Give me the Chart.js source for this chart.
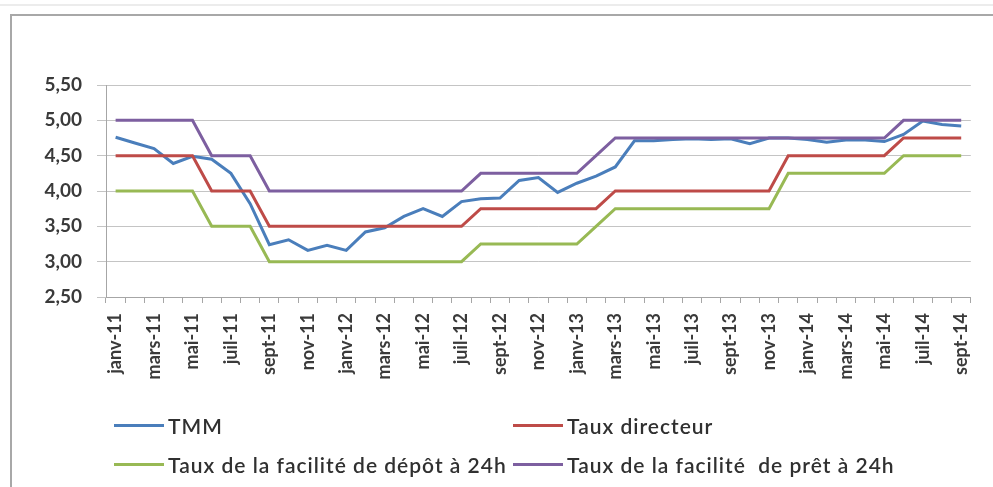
<!DOCTYPE html>
<html>
<head>
<meta charset="utf-8">
<script src="https://cdn.jsdelivr.net/npm/chart.js@4"></script>
<style>
  html, body { margin: 0; padding: 0; background: #fff; }
  #wrap { position: relative; width: 993px; height: 487px; overflow: hidden; font-family: Lato, "Open Sans", sans-serif; }
  #chart { position: absolute; left: 0; top: 0; }
  #faint { position: absolute; left: 0; top: 4px; width: 993px; border-top: 2px solid #ececec; }
  #frame { position: absolute; left: 10px; top: 14px; width: 1000px; height: 500px;
           border-top: 2px solid #a8a8a8; border-left: 2px solid #a8a8a8; }
  .leg { position: absolute; display: flex; align-items: center; white-space: pre;
         font-size: 21px; letter-spacing: 1px; color: #303030; font-weight: 600; }
  .leg i { display: inline-block; width: 50px; height: 3px; margin-right: 4px; }
</style>
</head>
<body>
<div id="wrap">
  <div id="faint"></div>
  <div id="frame"></div>
  <canvas id="chart" width="993" height="487"></canvas>
  <div id="legend"></div>
</div>
<script>
"use strict";

// janv-11 .. sept-14, monthly
const MONTHS = [
  "janv-11", "févr-11", "mars-11", "avr-11", "mai-11", "juin-11", "juil-11", "août-11", "sept-11", "oct-11", "nov-11", "déc-11",
  "janv-12", "févr-12", "mars-12", "avr-12", "mai-12", "juin-12", "juil-12", "août-12", "sept-12", "oct-12", "nov-12", "déc-12",
  "janv-13", "févr-13", "mars-13", "avr-13", "mai-13", "juin-13", "juil-13", "août-13", "sept-13", "oct-13", "nov-13", "déc-13",
  "janv-14", "févr-14", "mars-14", "avr-14", "mai-14", "juin-14", "juil-14", "août-14", "sept-14",
];

const TMM = [
  4.76, 4.68, 4.60, 4.39, 4.49, 4.45, 4.25, 3.82, 3.24, 3.31, 3.16, 3.23,
  3.16, 3.42, 3.48, 3.64, 3.75, 3.64, 3.85, 3.89, 3.90, 4.15, 4.19, 3.98,
  4.11, 4.21, 4.34, 4.71, 4.71, 4.73, 4.74, 4.73, 4.74, 4.67, 4.75, 4.75,
  4.73, 4.69, 4.72, 4.72, 4.70, 4.80, 4.99, 4.94, 4.92,
];

const TAUX_DIRECTEUR = [
  4.50, 4.50, 4.50, 4.50, 4.50, 4.00, 4.00, 4.00, 3.50, 3.50, 3.50, 3.50,
  3.50, 3.50, 3.50, 3.50, 3.50, 3.50, 3.50, 3.75, 3.75, 3.75, 3.75, 3.75,
  3.75, 3.75, 4.00, 4.00, 4.00, 4.00, 4.00, 4.00, 4.00, 4.00, 4.00, 4.50,
  4.50, 4.50, 4.50, 4.50, 4.50, 4.75, 4.75, 4.75, 4.75,
];

const FACILITE_DEPOT = [
  4.00, 4.00, 4.00, 4.00, 4.00, 3.50, 3.50, 3.50, 3.00, 3.00, 3.00, 3.00,
  3.00, 3.00, 3.00, 3.00, 3.00, 3.00, 3.00, 3.25, 3.25, 3.25, 3.25, 3.25,
  3.25, 3.50, 3.75, 3.75, 3.75, 3.75, 3.75, 3.75, 3.75, 3.75, 3.75, 4.25,
  4.25, 4.25, 4.25, 4.25, 4.25, 4.50, 4.50, 4.50, 4.50,
];

const FACILITE_PRET = [
  5.00, 5.00, 5.00, 5.00, 5.00, 4.50, 4.50, 4.50, 4.00, 4.00, 4.00, 4.00,
  4.00, 4.00, 4.00, 4.00, 4.00, 4.00, 4.00, 4.25, 4.25, 4.25, 4.25, 4.25,
  4.25, 4.50, 4.75, 4.75, 4.75, 4.75, 4.75, 4.75, 4.75, 4.75, 4.75, 4.75,
  4.75, 4.75, 4.75, 4.75, 4.75, 5.00, 5.00, 5.00, 5.00,
];

const Y_MIN = 2.5, Y_MAX = 5.5, Y_STEP = 0.5;

const SERIES = [
  { label: "TMM", data: TMM, color: "#4a7ebb", order: 4 },
  { label: "Taux directeur", data: TAUX_DIRECTEUR, color: "#be4b48", order: 3 },
  { label: "Taux de la facilité de dépôt à 24h", data: FACILITE_DEPOT, color: "#98b954", order: 2 },
  { label: "Taux de la facilité  de prêt à 24h", data: FACILITE_PRET, color: "#7d5fa0", order: 1 },
];

// legend slots (2 x 2 like the Excel original)
const LEGEND_POS = [
  { x: 114, y: 425 }, { x: 513, y: 425 },
  { x: 114, y: 464 }, { x: 513, y: 464 },
];

const AXIS_GREY = "#a6a6a6";
const GRID_GREY = "#c4c4c4";
const TEXT = "#3a3a3a";

// ----- chart ---------------------------------------------------------------- //
const ctx = document.getElementById("chart");
new Chart(ctx, {
  type: "line",
  data: {
    labels: MONTHS,
    datasets: SERIES.map(s => ({
      label: s.label,
      data: s.data,
      borderColor: s.color,
      backgroundColor: s.color,
      borderWidth: 3,
      pointRadius: 0,
      tension: 0,
      order: s.order,
    })),
  },
  options: {
    responsive: false,
    animation: false,
    layout: { padding: { top: 85, right: 18, left: 0, bottom: 0 } },
    plugins: { legend: { display: false }, tooltip: { enabled: false } },
    scales: {
      x: {
        offset: true,
        afterFit: scale => { scale.height = 190; },
        border: { color: AXIS_GREY, width: 1 },
        grid: { offset: true, drawOnChartArea: false, tickLength: 6, color: AXIS_GREY },
        ticks: {
          autoSkip: false,
          maxRotation: 90,
          minRotation: 90,
          padding: 10,
          color: TEXT,
          font: { family: "Lato", size: 18, weight: "bold" },
          callback: (v, i) => (i % 2 === 0 ? MONTHS[i] : ""),
        },
      },
      y: {
        min: Y_MIN,
        max: Y_MAX,
        afterFit: scale => { scale.width = 106; },
        border: { color: AXIS_GREY, width: 1 },
        grid: { color: GRID_GREY, tickLength: 9, tickColor: GRID_GREY },
        ticks: {
          stepSize: Y_STEP,
          padding: 15,
          color: TEXT,
          font: { family: "Lato", size: 19, weight: "bold" },
          callback: v => v.toFixed(2).replace(".", ","),
        },
      },
    },
  },
});

// ----- legend --------------------------------------------------------------- //
const legend = document.getElementById("legend");
SERIES.forEach((s, i) => {
  const el = document.createElement("div");
  el.className = "leg";
  el.style.left = LEGEND_POS[i].x + "px";
  el.style.top = (LEGEND_POS[i].y - 12) + "px";
  el.style.height = "24px";
  el.innerHTML = `<i style="background:${s.color}"></i>`;
  el.appendChild(document.createTextNode(s.label));
  legend.appendChild(el);
});
</script>
</body>
</html>
